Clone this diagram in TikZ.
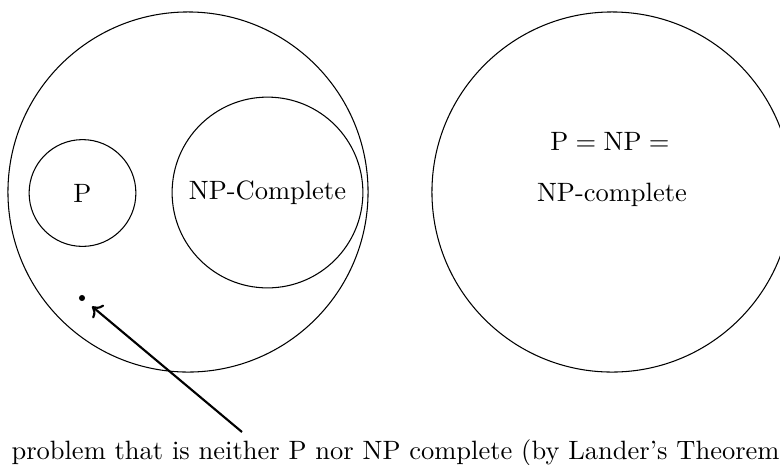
\documentclass[tikz,border=0pt]{standalone}
\usetikzlibrary{arrows.meta}
\begin{document}
\begin{tikzpicture}[x=0.3774pt, y=-0.3774pt,
  set/.style={circle, draw, inner sep=0pt},
  lbl/.style={inner sep=0pt, anchor=base},
  pointer/.style={-{To[length=3.4pt, width=6.6pt]}, thick, shorten >=3.6pt}]
\useasboundingbox (0,0) rectangle (780,464);
% NP with its two subclasses and an intermediate problem
\node[set, minimum size=135.9pt] (np) at (188,192) {};
\node[set, minimum size=40.3pt] (p) at (82.5,193) {P};
\node[set, minimum size=72pt] (npc) at (267.5,192.5) {NP-Complete};
\node[circle, fill, inner sep=0pt, minimum size=2.3pt] (x) at (82,298) {};
% the collapsed case
\node[set, minimum size=135.9pt] (all) at (612,192) {};
\node[lbl] (eq) at (610,150) {$\mathrm{P}=\mathrm{NP}=$};
\node[lbl] (eqc) at (612,201) {NP-complete};
% caption and its pointer
\node[lbl, anchor=base west] (cap) at (11,459) {problem that is neither P nor NP complete (by Lander's Theorem};
\coordinate (tail) at (242,432);
\draw[pointer] (tail) -- (x);
\end{tikzpicture}
\end{document}
